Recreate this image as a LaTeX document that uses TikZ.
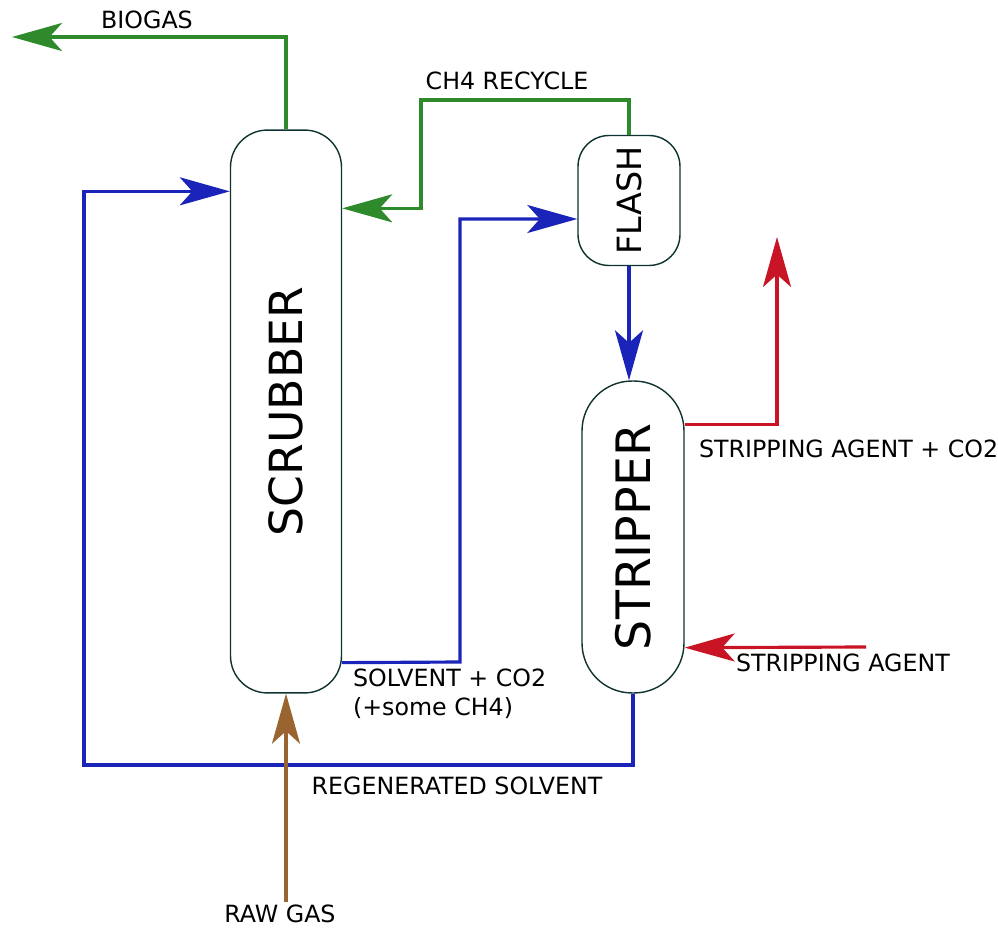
\documentclass[tikz,border=0pt]{standalone}
\usepackage{fontspec}
\setmainfont{DejaVu Sans}
\usetikzlibrary{arrows.meta,positioning}
\definecolor{gasgreen}{HTML}{2E8A2A}
\definecolor{solvblue}{HTML}{1A24B8}
\definecolor{agentred}{HTML}{C81424}
\definecolor{rawbrown}{HTML}{9A6430}
\definecolor{unitline}{HTML}{0F3330}
\tikzset{
  unit/.style={draw=unitline,line width=0.8pt,fill=white,inner sep=0pt},
  flow/.style={line width=1.8pt,-{Stealth[length=1cm,width=0.56cm,inset=0.25cm]}},
  tag/.style={font=\fontsize{13.5}{16.5}\selectfont,inner sep=1pt}
}
\begin{document}
\begin{tikzpicture}[x=0.02cm,y=-0.02cm]
\useasboundingbox (0,0) rectangle (998,929);
\node[unit,rounded corners=0.74cm,minimum width=2.22cm,minimum height=11.26cm] (scrubber) at (286,411.5)
  {\fontsize{26}{30}\selectfont\rotatebox{90}{SCRUBBER}};
\node[unit,rounded corners=0.62cm,minimum width=2.04cm,minimum height=2.6cm] (flash) at (629,200.5)
  {\fontsize{19}{22}\selectfont\rotatebox{90}{FLASH}};
\node[unit,rounded corners=1cm,minimum width=2.04cm,minimum height=6.24cm] (stripper) at (633,537)
  {\fontsize{27}{31}\selectfont\rotatebox{90}{STRIPPER}};
\coordinate (biogasout) at (12,37);
\coordinate (recycletop) at (421,100);
\coordinate (regenlow) at (84,765);
\coordinate (solvknee) at (460,662);
\coordinate (agentout) at (777,237);
\coordinate (agentin) at (866,647);
\coordinate (rawin) at (286,902);
\draw[flow,gasgreen] (scrubber.north) |- (biogasout);
\draw[flow,gasgreen] (flash.north) |- (recycletop) |- ([yshift=-1.58cm]scrubber.north east);
\draw[flow,solvblue] (stripper.south) |- (regenlow) |- ([yshift=-1.24cm]scrubber.north west);
\draw[flow,solvblue] ([yshift=0.62cm]scrubber.south east) -- (solvknee) |- ([yshift=-0.37cm]flash.west);
\draw[flow,solvblue] (flash.south) -- (flash.south |- stripper.north);
\draw[flow,agentred] ([yshift=-0.88cm]stripper.north east) -| (agentout);
\draw[flow,agentred] (agentin) -- ([yshift=0.92cm]stripper.south east);
\draw[flow,rawbrown] (rawin) -- (scrubber.south);
\node[tag] (biogaslbl) at (147,20) {BIOGAS};
\node[tag] (recyclelbl) at (507,81) {CH4 RECYCLE};
\node[tag,anchor=north west,align=left] (solvlbl) at (351,667) {SOLVENT + CO2\\(+some CH4)};
\node[tag] (regenlbl) at (457,786) {REGENERATED SOLVENT};
\node[tag,anchor=west] (agentoutlbl) at (697,449) {STRIPPING AGENT + CO2};
\node[tag,anchor=west] (agentinlbl) at (734,663) {STRIPPING AGENT};
\node[tag] (rawlbl) at (280,914) {RAW GAS};
\end{tikzpicture}
\end{document}
